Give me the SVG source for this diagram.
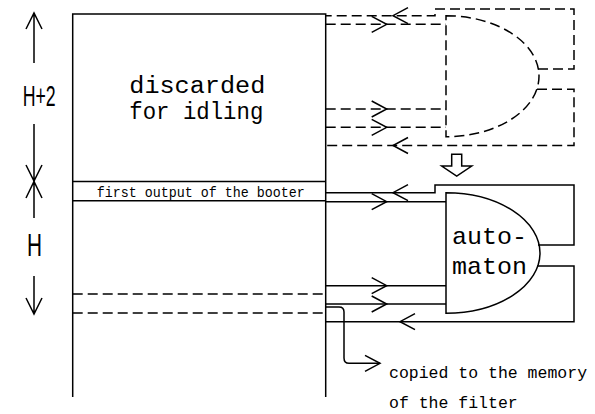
<svg xmlns="http://www.w3.org/2000/svg" xmlns:xlink="http://www.w3.org/1999/xlink" width="595" height="414" viewBox="0 0 595 414">
<style>
.ln{fill:none;stroke:#000;stroke-width:1.5;stroke-linejoin:miter}
.dash{fill:none;stroke:#000;stroke-width:1.5;stroke-dasharray:10 5}
.mono{font-family:"Liberation Mono","DejaVu Sans Mono",monospace;fill:#000}
.sans{font-family:"Liberation Sans",Arial,sans-serif;fill:#000}
</style>
<defs>
<path id="chevR" d="M-15,-8 L0,0 L-15,8" fill="none" stroke="#000" stroke-width="1.5"/>
<path id="chevL" d="M15,-8 L0,0 L15,8" fill="none" stroke="#000" stroke-width="1.5"/>
</defs>
<rect width="595" height="414" fill="#fff"/>

<g id="scale">
<path class="ln" d="M34,13 V63 M26,29 L34,13 L42,29"/>
<text class="sans" x="22.7" y="106" font-size="29.5" textLength="33" lengthAdjust="spacingAndGlyphs">H+2</text>
<path class="ln" d="M34,124 V181 M26,165 L34,181 L42,165"/>
<path class="ln" d="M34,181.5 V218 M26,198 L34,181.5 L42,198"/>
<text class="sans" x="27" y="256" font-size="32" textLength="15" lengthAdjust="spacingAndGlyphs">H</text>
<path class="ln" d="M34,276 V314 M26,298 L34,314 L42,298"/>
</g>

<g id="memory">
<path class="ln" d="M72.7,397 V14 H325.7 V397"/>
<line class="ln" x1="72.7" y1="181.5" x2="325.7" y2="181.5"/>
<line class="ln" x1="72.7" y1="200.7" x2="325.7" y2="200.7"/>
<line class="dash" x1="72.7" y1="294" x2="325.7" y2="294"/>
<line class="dash" x1="72.7" y1="313" x2="325.7" y2="313"/>
<text class="mono" x="129.3" y="93.3" font-size="23" textLength="136" lengthAdjust="spacingAndGlyphs">discarded</text>
<text class="mono" x="129.3" y="118.5" font-size="23" textLength="134" lengthAdjust="spacingAndGlyphs">for idling</text>
<text class="mono" x="96.7" y="197" font-size="15" textLength="208" lengthAdjust="spacingAndGlyphs">first output of the booter</text>
</g>

<g id="idle-gate">
<path class="dash" d="M446,15.7 A93,60.5 0 0 1 446,136.7 Z"/>
</g>

<g id="automaton">
<path class="ln" d="M446,192.7 A94,60.3 0 0 1 446,313.3 Z"/>
<text class="mono" x="452" y="244" font-size="24" textLength="75" lengthAdjust="spacingAndGlyphs">auto-</text>
<text class="mono" x="452" y="274" font-size="24" textLength="75" lengthAdjust="spacingAndGlyphs">maton</text>
</g>

<g id="transition">
<path class="ln" d="M451.7,154.3 H461.7 V166 H471.7 L456.7,176 L441.7,166 H451.7 Z" style="fill:#fff"/>
</g>

<g id="connectors">
<path class="dash" d="M538,69 H574 V9 H435 V15.7 H325.7"/>
<use xlink:href="#chevL" x="393" y="15.7"/>
<path class="dash" d="M325.7,24.3 H446"/>
<use xlink:href="#chevR" x="386.7" y="24.3"/>
<path class="dash" d="M325.7,109 H446"/>
<use xlink:href="#chevR" x="386.7" y="109"/>
<path class="dash" d="M325.7,127.3 H446"/>
<use xlink:href="#chevR" x="386.7" y="127.3"/>
<path class="dash" d="M537,89.3 H574 V145.5 H325.7"/>
<use xlink:href="#chevL" x="393" y="145.5"/>

<path class="ln" d="M538,245 H574 V185 H435 V192.7 H325.7"/>
<use xlink:href="#chevL" x="393" y="192.7"/>
<path class="ln" d="M325.7,201.7 H446"/>
<use xlink:href="#chevR" x="386.7" y="201.7"/>
<path class="ln" d="M325.7,285.7 H446"/>
<use xlink:href="#chevR" x="386.7" y="285.7"/>
<path class="ln" d="M325.7,304 H446"/>
<use xlink:href="#chevR" x="386.7" y="304"/>
<path class="ln" d="M537,266 H574 V321.7 H325.7"/>
<use xlink:href="#chevL" x="400" y="321.7"/>

<path class="ln" d="M325.7,307 H339 Q344,307 344,312 V358 Q344,363.3 349,363.3 H380"/>
<use xlink:href="#chevR" x="380" y="363.3"/>
</g>

<g id="copy-label">
<text class="mono" x="389" y="378" font-size="16.5">copied to the memory</text>
<text class="mono" x="389" y="408" font-size="16.5">of the filter</text>
</g>
</svg>
